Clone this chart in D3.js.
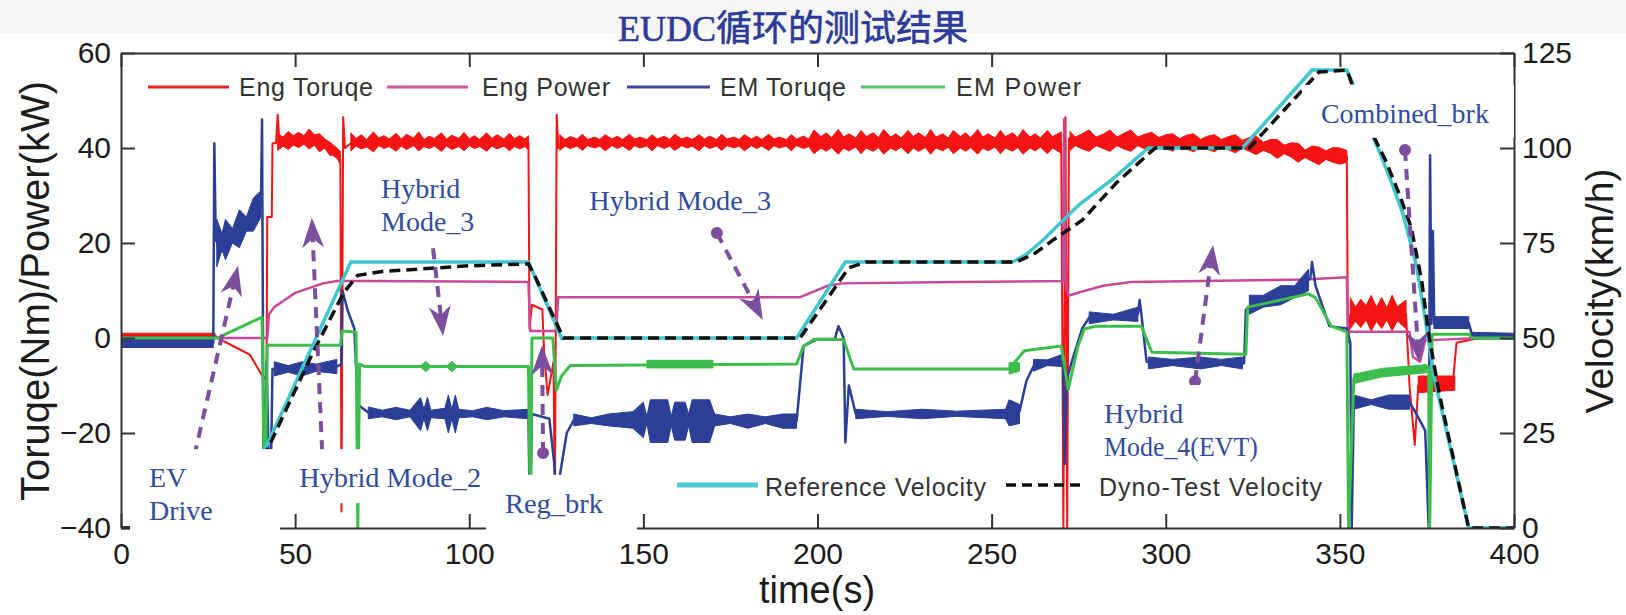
<!DOCTYPE html>
<html>
<head>
<meta charset="utf-8">
<script src="https://cdn.jsdelivr.net/npm/d3@7"></script>
<style>
  body { margin: 0; background: #ffffff; }
  svg { display: block; }
</style>
</head>
<body>
<script>
const w = 1626;
const h = 615;

// ticks
const xTicks = [0, 50, 100, 150, 200, 250, 300, 350, 400];
const yTicks = [-40, -20, 0, 20, 40, 60];
const vTicks = [0, 25, 50, 75, 100, 125];

// series, [time(s), value]
const engTorque = [[0,0.5],[27,0.5],[29,-0.5],[33,-2],[37,-3.5],[39,-6],[41,-8.5],[41.8,-8],[42,25.5],[43.3,25.5],[43.5,41],[44.5,41],[45,47],[45.6,40],[48,41.5],[52,42],[55,42.3],[58,40.5],[61,38.5],[63,37.5],[63.3,-36.5],[63.8,46.5],[64.3,40],[66,41],[117,41],[117.3,2],[118,7],[121,6],[121.5,-3],[122.5,-12],[124.2,-5],[124.6,-36.5],[125.1,47],[125.6,40],[127,41],[270,41],[270.6,-40],[271.2,46.5],[271.7,-40],[272.2,42],[300,41.3],[322,41],[330,40],[341,38],[352,38.3],[352.3,-1],[353,5],[369,5],[370,-10],[371.5,-22.5],[372.5,-10],[380,-9.5],[382.5,-9],[383.5,-1],[390,0],[400,0.2]];
const engTorqueBand = [[0,0,1],[27,0,1],null,
  [45,39.5,43],[46.5,40.4,42.3],[48,39.7,43.5],[49.5,40.6,42.6],[51,40.1,43.3],[52.5,40.8,42.6],[54,39.8,44],[55.5,40.6,42.8],[57,39.2,43],[58.5,40,41.9],[60,38.4,41.2],[61.5,38.6,40.3],[63,36.5,39.3],null,
  [66,39.4,43.2],[67.5,40.4,42],[69,39.8,42.8],[70.5,40.2,41.8],[72.5,39.2,43.4],[74,40.5,42.1],[75.5,39.9,42.6],[77,40.3,41.9],[79,39.3,43.1],[80.5,40.4,41.9],[82,39.7,42.9],[84,40.5,42.1],[85.5,39.4,43.4],[87,40.3,41.8],[88.5,39.9,42.5],[90,40.4,42],[92,39.3,43.2],[93.5,40.4,41.9],[95,39.7,42.7],[97,40.3,42],[98.5,39.4,43.3],[100,40.5,41.9],[101.5,39.9,42.6],[103,40.3,41.8],[105,39.3,43.2],[106.5,40.4,42],[108,39.8,42.8],[110,40.4,41.9],[111.5,39.4,43.1],[113,40.3,42],[114.5,39.8,42.6],[116,40.3,41.9],[117,39.6,42.6],null,
  [126,39.5,42.8],[127.5,40.4,41.8],[129,39.9,42.4],[131,40.4,41.9],[132.5,39.5,42.9],[134,40.5,41.8],[136,40,42.3],[137.5,40.4,41.8],[139,39.4,42.8],[141,40.5,41.9],[142.5,39.9,42.5],[144,40.4,41.8],[146,39.5,42.9],[147.5,40.5,41.9],[149,40,42.3],[151,40.4,41.8],[152.5,39.4,42.8],[154,40.5,41.9],[156,39.9,42.5],[157.5,40.4,41.8],[159,39.5,42.9],[161,40.5,41.9],[162.5,40,42.3],[164,40.4,41.8],[166,39.4,42.8],[167.5,40.5,41.9],[169,39.9,42.5],[171,40.4,41.8],[172.5,39.5,42.9],[174,40.5,41.9],[176,40,42.3],[177.5,40.4,41.8],[179,39.4,42.8],[181,40.5,41.9],[182.5,39.9,42.5],[184,40.4,41.8],[186,39.5,42.9],[187.5,40.5,41.9],[189,40,42.3],[191,40.4,41.8],[192.5,39.4,42.8],[194,40.5,41.9],[196,39.9,42.5],[197.5,40.3,41.9],
  [199,38.8,43.8],[201,40,42.4],[202.5,39.3,43.2],[204,40.1,42.2],[206,38.7,43.9],[207.5,40,42.3],[209,39.4,43],[211,40.2,42.1],[212.5,38.8,43.7],[214,40,42.4],[216,39.3,43.2],[217.5,40.1,42.2],[219,38.7,43.9],[221,40,42.3],[222.5,39.4,43],[224,40.2,42.1],[226,38.8,43.7],[227.5,40,42.4],[229,39.3,43.2],[231,40.1,42.2],[232.5,38.7,43.9],[234,40,42.3],[236,39.4,43],[237.5,40.2,42.1],[239,38.8,43.7],[241,40,42.4],[242.5,39.3,43.2],[244,40.1,42.2],[246,38.7,43.9],[247.5,40,42.3],[249,39.4,43],[251,40.2,42.1],[252.5,38.8,43.7],[254,40,42.4],[256,39.3,43.2],[257.5,40.1,42.2],[259,38.7,43.9],[261,40,42.3],[262.5,39.4,43],[264,40.2,42.1],[266,38.8,43.7],[267.5,40,42.4],[270,38.9,43.4],null,
  [272.5,39.5,43.5],[274,40.5,42.3],[276,39.8,43],[278,39.3,43.8],[280,40.5,42.3],[282,39.9,42.9],[284,39.3,43.8],[286,40.5,42.3],[288,39.8,43.1],[290,39.3,43.8],[292,40.5,42.3],[294,39.8,42.9],[296,39.3,43.3],[298,40.5,42.2],[300,39.9,42.8],[302,39.3,43],[304,40.5,42],[306,39.8,42.7],[308,39.2,43],[310,40.3,41.8],[312,39.7,42.5],[314,39.2,42.8],[316,40.3,41.8],[318,39.6,42.4],[320,39,42.8],[322,40,41.6],[324,39.3,42.2],[326,38.6,42.5],[328,39.5,41.2],[330,38.9,41.8],[332,37.8,41.8],[334,38.8,40.6],[336,38.1,41.1],[338,37,41],[340,38,39.6],[342,37.2,40.4],[344,36.5,40.2],[346,37.6,39.4],[348,37,40.1],[350,36.6,40],[352,37,39.5],null,
  [353,2,8.5],[354.5,3.5,6.5],[356,2.2,8.2],[357.5,3.8,6.8],[359,1.5,9],[360.5,3.5,6.5],[362,2,8.5],[363.5,3.8,6.3],[365,1.5,9],[366.5,3.6,6.6],[369,2,8],null,[372.5,-11.5,-8],[383,-11,-8]];
const engPower = [[0,0],[42,0],[42.5,5],[44,6.5],[47,8],[50,9.5],[54,10.5],[58,11.5],[62,12],[70,12],[117,11.8],[117.5,1.5],[125,1.5],[125.5,8.6],[195,8.6],[198,9.5],[203,11],[207,11.5],[240,11.8],[270.5,12],[270.8,46],[271.2,12],[272,8.9],[276,9.8],[282,11],[290,11.8],[340,12.3],[352,12.8],[352.3,1.3],[370,1.3],[371,-4],[373,-5],[374.5,-0.5],[390,0],[400,0]];
const emTorque = [[0,-1],[26.5,-1],[26.8,41],[27.2,21],[28,19],[30,21],[32,22.5],[35,24],[38,27],[40.2,29],[40.5,46],[41,-39],[41.8,-5],[42.8,-39],[43.5,-6.5],[50,-6.5],[55,-6],[62,-6],[63.3,-5.5],[63.6,10],[65,6],[67,2],[68,-14],[71,-15.7],[117,-16],[117.4,-39],[118,-16],[123,-17],[124.5,-27],[125,-39],[126,-29],[128,-20],[130,-17.3],[194,-17.5],[196,-1.7],[200,-0.2],[205,-0.2],[206,2.5],[207.5,0],[208,-22],[209,-10],[211,-16],[255,-16],[258,-15.5],[260,-9],[262,-6],[270.5,-5],[271,-26.5],[271.5,-9],[273,-5],[276,2],[278,4.3],[292,5],[292.5,8],[293,5],[294.5,-5],[322.5,-5.3],[323,6],[330,8.5],[336,10],[341.5,12.5],[342,16],[343,11],[347,2.5],[352,2],[353,-1],[353.4,-40],[354,-13.5],[370,-13.5],[372,-16],[374.5,-19.5],[375.5,-40],[375.9,38.5],[376.3,3],[376.7,22.5],[377.1,3],[387,3.2],[388,0.5],[400,0.3]];
const emTorqueBand = [[0,-2,0.2],[26.5,-2,0.2],null,
  [27.5,15,25],[29,18.5,22],[30,16.5,25],[32,20,23],[34,19,27],[36,22.5,25.5],[38,22.5,29.5],[40.2,25.5,31],null,
  [44,-8,-5],[48,-7.2,-5.8],[52,-8,-5],[56,-7,-5.5],[62,-7.5,-4.5],null,
  [71,-17,-14.5],[75,-16.6,-15.2],[79,-17.2,-14.6],[83,-16.6,-15.2],[86,-19.5,-12.5],[87,-17,-15],[88,-19.5,-12.5],[89,-16.8,-15.2],[93,-17,-14.8],[94,-20,-12],[95,-17,-15],[96,-20,-12],[97,-16.8,-15],[101,-16.6,-15.3],[105,-17.2,-14.6],[110,-16.6,-15.3],[117,-17,-15],null,
  [130,-18.5,-16],[135,-18,-16.8],[140,-18.5,-16],[147,-19,-15.5],[150,-21,-13.5],[151,-18,-16.5],[152,-22,-13],[157,-22,-13],[158,-18.5,-16.5],[159,-21.5,-13.5],[162,-21.5,-13.5],[163,-18.5,-16],[164,-22,-13],[169,-22,-13],[170.5,-18.5,-16],[175,-18,-16.6],[180,-19,-16],[185,-18,-16.6],[190,-19,-16],[194,-19,-16],null,
  [211,-17,-15],[220,-16.5,-15.5],[230,-17,-15],[240,-16.5,-15.4],[254,-17,-15],[255,-18.5,-13],[258,-18,-14],null,
  [262,-7,-4.5],[266,-5.8,-4.6],[270,-6,-3.5],null,[278,3,5.5],[285,3.8,5],[292,3.5,6.5],null,
  [295,-6.5,-4],[302,-5.8,-4.5],[310,-6.5,-4],[316,-5.8,-4.5],[322,-6.5,-4],null,
  [324,5,9],[328,6.5,9],[333,7,11],[337,8.5,11],[341,10,14.5],null,
  [354,-15,-12],[359,-14,-13],[364,-15,-12],[370,-15,-12],null,
  [377,2,4.5],[387,2,4.5],null,[388,-0.2,1.2],[400,-0.2,1]];
const emPower = [[0,0],[28,0],[30,0.8],[35,2.5],[40.5,4.4],[41.3,-40],[42,-1.5],[63,-1.5],[63.5,1.5],[67.5,1.2],[68,-40],[68.5,-5.5],[70,-6],[117,-6],[117.6,-40],[118,0],[124,0],[125,-11],[126.5,-8],[129,-5.8],[194,-5.5],[196,-1.7],[199,-0.3],[207.5,-0.3],[210.4,-6.5],[255,-6.5],[259.4,-2.7],[270,-1.7],[272,-10.8],[274.8,-1.7],[276.6,1.9],[280,2.5],[293,2.5],[296,-3],[323,-3.4],[323.5,6.5],[330,7.5],[341,9.3],[343,8.5],[347.5,2.5],[352,1.3],[352.5,-40],[354,-8.6],[370,-6.5],[375.5,-6.1],[375.8,-40],[376.5,0.8],[387,0.8],[388,0],[400,0]];
const emPowerBand = [[86,-6.1,-5.9],[87.5,-7.1,-4.9],[89,-6.1,-5.9],null,[93.5,-6.1,-5.9],[95,-7.1,-4.9],[96.5,-6.1,-5.9],null,[151,-6.3,-4.7],[170,-6.3,-4.7],null,[255,-7.6,-5.2],[258,-7,-5.2],null,[354,-9.6,-7.6],[362,-8.2,-6.4],[375,-7.3,-5.6]];
const refVelocity = [[0,0],[31,0],[66,70],[117,70],[126.5,50],[194,50],[208,70],[256,70],[260,72],[265,76],[275,85],[285,92],[295,100],[322,100],[342,120.5],[352,120.5],[356,112],[360,102],[364,93],[368,83],[372,69],[374.5,55],[377,40],[381,24],[384,12],[387,0],[400,0]];
const dynoVelocity = [[0,0],[31.5,0],[55,46],[64,62],[68,66.5],[75,67.5],[100,69],[117,69.5],[119,66],[127,50],[195,50],[209,68.5],[214,70],[257,70],[262,72],[268,76],[276,81],[286,91],[297,100],[324,100],[344,120],[352,120.5],[357,108],[363,97],[367,88],[370.5,79],[373.5,65],[375.5,51],[378.4,36],[386,4],[387,0],[400,0]];

// legend + annotation text
const legendTop = ["Eng Toruqe", "Eng Power", "EM Toruqe", "EM Power"];
const legendBottom = ["Reference Velocity", "Dyno-Test Velocity"];
const notes = [
  {lines: ["EV", "Drive"], t: 2.6, v: -23.4, bw: 150, bh: 88},
  {lines: ["Hybrid Mode_2"], t: 45.7, v: -23.4, bw: 206, bh: 54},
  {lines: ["Reg_brk"], t: 104.8, v: -28.8, bw: 151, bh: 57},
  {lines: ["Hybrid", "Mode_3"], t: 69.2, v: 37.5, bw: 156, bh: 88},
  {lines: ["Hybrid Mode_3"], t: 129, v: 34.9, bw: 0, bh: 0},
  {lines: ["Combined_brk"], t: 339.1, v: 53.3, bw: 212, bh: 53},
  {lines: ["Hybrid", "Mode_4(EVT)"], t: 276.8, v: -9.9, bw: 232, bh: 88}
];
// arrows: [tail t, tail v, tip t, tip v, has dot]
const arrows = [[19.8,-28.8,33.6,15.2,0],[58,-27.8,54.8,25.3,0],[89.6,18.9,92.5,0.4,0],[171.1,22.1,184.3,3.8,1],[121.2,-24.2,120.9,-1.5,1],[308.4,-9.1,313.6,19.6,1],[368.7,39.6,372.7,-5.1,1]];

const colors = {eng: "#f41414", engP: "#c8489c", em: "#2c3f98", emP: "#3dbd4c", ref: "#3fc6ce", dyno: "#111111"};

const x = d3.scaleLinear().domain([0, 400]).range([121, 1514]);
const y = d3.scaleLinear().domain([-40, 60]).range([528, 53]);
const yv = d3.scaleLinear().domain([0, 125]).range([528, 53]);

const svg = d3.select("body").append("svg")
  .attr("width", w)
  .attr("height", h);

svg.append("rect").attr("width", w).attr("height", 33).attr("fill", "#f6f6f6");

svg.append("clipPath").attr("id", "plot")
  .append("rect")
  .attr("x", 121).attr("y", 53)
  .attr("width", 1514 - 121).attr("height", 528 - 53);

const plot = svg.append("g").attr("clip-path", "url(#plot)");

const line = d3.line().x(d => x(d[0])).y(d => y(d[1]));
const vline = d3.line().x(d => x(d[0])).y(d => yv(d[1]));
const band = d3.area().defined(d => d !== null)
  .x(d => x(d[0])).y0(d => y(d[1])).y1(d => y(d[2]));

function series(data, bandData, color, width) {
  if (bandData) {
    plot.append("path").attr("d", band(bandData)).attr("fill", color).attr("stroke", color).attr("stroke-width", 1);
  }
  plot.append("path").attr("d", line(data))
    .attr("fill", "none").attr("stroke", color)
    .attr("stroke-width", width).attr("stroke-linejoin", "round");
}

series(engTorque, engTorqueBand, colors.eng, 2);
series(engPower, null, colors.engP, 2.5);
series(emTorque, emTorqueBand, colors.em, 2.5);
series(emPower, emPowerBand, colors.emP, 3);

plot.append("path").attr("d", vline(refVelocity))
  .attr("fill", "none").attr("stroke", colors.ref).attr("stroke-width", 3.5);
plot.append("path").attr("d", vline(dynoVelocity))
  .attr("fill", "none").attr("stroke", colors.dyno).attr("stroke-width", 3.5)
  .attr("stroke-dasharray", "11,6");

// axes
function styleAxis(g) {
  g.attr("font-family", "'Liberation Sans', Arial, sans-serif").attr("font-size", 30);
  g.select(".domain").attr("stroke", "#333").attr("stroke-width", 2);
  g.selectAll(".tick line").attr("stroke", "#333").attr("stroke-width", 2);
  g.selectAll(".tick text").attr("fill", "#1c1c1c");
}

svg.append("g").attr("transform", `translate(0,${y(-40)})`)
  .call(d3.axisBottom(x).tickValues(xTicks).tickSize(-14).tickSizeOuter(0).tickPadding(15))
  .call(styleAxis);
svg.append("g").attr("transform", `translate(0,${y(60)})`)
  .call(d3.axisTop(x).tickValues(xTicks).tickSize(-14).tickSizeOuter(0).tickFormat(() => ""))
  .call(styleAxis);
svg.append("g").attr("transform", `translate(${x(0)},0)`)
  .call(d3.axisLeft(y).tickValues(yTicks).tickSize(-14).tickSizeOuter(0).tickPadding(10))
  .call(styleAxis);
svg.append("g").attr("transform", `translate(${x(400)},0)`)
  .call(d3.axisRight(yv).tickValues(vTicks).tickSize(-14).tickSizeOuter(0).tickPadding(8))
  .call(styleAxis);

// axis titles
const sans = "'Liberation Sans', Arial, sans-serif";
svg.append("text").attr("transform", "translate(35,291) rotate(-90)")
  .attr("text-anchor", "middle").attr("dy", "0.35em")
  .attr("font-family", sans).attr("font-size", 40).attr("fill", "#1c1c1c")
  .text("Toruqe(Nm)/Power(kW)");
svg.append("text").attr("transform", "translate(1601,291) rotate(-90)")
  .attr("text-anchor", "middle").attr("dy", "0.3em")
  .attr("font-family", sans).attr("font-size", 39).attr("fill", "#1c1c1c")
  .text("Velocity(km/h)");
svg.append("text").attr("x", 817).attr("y", 603)
  .attr("text-anchor", "middle")
  .attr("font-family", sans).attr("font-size", 38).attr("fill", "#1c1c1c")
  .text("time(s)");

// title
svg.append("text").attr("x", 793).attr("y", 41)
  .attr("text-anchor", "middle")
  .attr("font-family", "'Liberation Serif', 'Noto Sans CJK SC', serif")
  .attr("font-size", 36).attr("fill", "#2b3c99")
  .attr("stroke", "#2b3c99").attr("stroke-width", 0.6)
  .text("EUDC循环的测试结果");

// top legend
const topPos = [[148, 229, 239, 134], [387, 468, 482, 128], [627, 710, 720, 126], [861, 945, 956, 125]];
const topColors = ["#e8262a", "#cf56a0", "#3a4a9a", "#52c46c"];
legendTop.forEach((label, i) => {
  const p = topPos[i];
  svg.append("line").attr("x1", p[0]).attr("x2", p[1]).attr("y1", 87).attr("y2", 87)
    .attr("stroke", topColors[i]).attr("stroke-width", 3);
  svg.append("text").attr("x", p[2]).attr("y", 87).attr("dy", "0.35em")
    .attr("font-family", sans).attr("font-size", 25).attr("fill", "#333")
    .attr("textLength", p[3]).text(label);
});

// bottom legend
const botPos = [[677, 758, 765, 221], [1006, 1083, 1099, 223]];
legendBottom.forEach((label, i) => {
  const p = botPos[i];
  svg.append("line").attr("x1", p[0]).attr("x2", p[1]).attr("y1", 485).attr("y2", 485)
    .attr("stroke", i === 0 ? "#4ec9d0" : "#111")
    .attr("stroke-width", i === 0 ? 5 : 3.5)
    .attr("stroke-dasharray", i === 0 ? null : "10,6");
  svg.append("text").attr("x", p[2]).attr("y", 487).attr("dy", "0.35em")
    .attr("font-family", sans).attr("font-size", 25).attr("fill", "#333")
    .attr("textLength", p[3]).text(label);
});

// arrows
const purple = "#7b4f9e";
arrows.forEach(a => {
  const x1 = x(a[0]), y1 = y(a[1]), x2 = x(a[2]), y2 = y(a[3]);
  const len = Math.hypot(x2 - x1, y2 - y1);
  const ux = (x2 - x1) / len, uy = (y2 - y1) / len;
  const nx = -uy, ny = ux;
  const L = 30, hw = 11, notch = 9;
  const bx = x2 - ux * (L - notch), by = y2 - uy * (L - notch);
  svg.append("line").attr("x1", x1).attr("y1", y1).attr("x2", bx).attr("y2", by)
    .attr("stroke", purple).attr("stroke-width", 4).attr("stroke-dasharray", "11,8");
  svg.append("path")
    .attr("d", `M${x2},${y2}L${x2 - ux * L + nx * hw},${y2 - uy * L + ny * hw}L${bx},${by}L${x2 - ux * L - nx * hw},${y2 - uy * L - ny * hw}Z`)
    .attr("fill", purple);
  if (a[4]) svg.append("circle").attr("cx", x1).attr("cy", y1).attr("r", 6).attr("fill", purple);
});

// annotation boxes
notes.forEach(n => {
  const bx = x(n.t), by = y(n.v);
  if (n.bw > 0) svg.append("rect").attr("x", bx).attr("y", by).attr("width", n.bw).attr("height", n.bh).attr("fill", "#fff");
  n.lines.forEach((s, i) => {
    const t = svg.append("text").attr("x", bx + 19).attr("y", by + 38 + i * 33)
      .attr("font-family", "'Liberation Serif', serif").attr("font-size", 28)
      .attr("fill", "#2f4c9f")
      .text(s);
    // the original labels use a fixed-width face, ~14px per character
    if (s.length > 6) t.attr("textLength", s.length * 14).attr("lengthAdjust", "spacingAndGlyphs");
  });
});
</script>
</body>
</html>
